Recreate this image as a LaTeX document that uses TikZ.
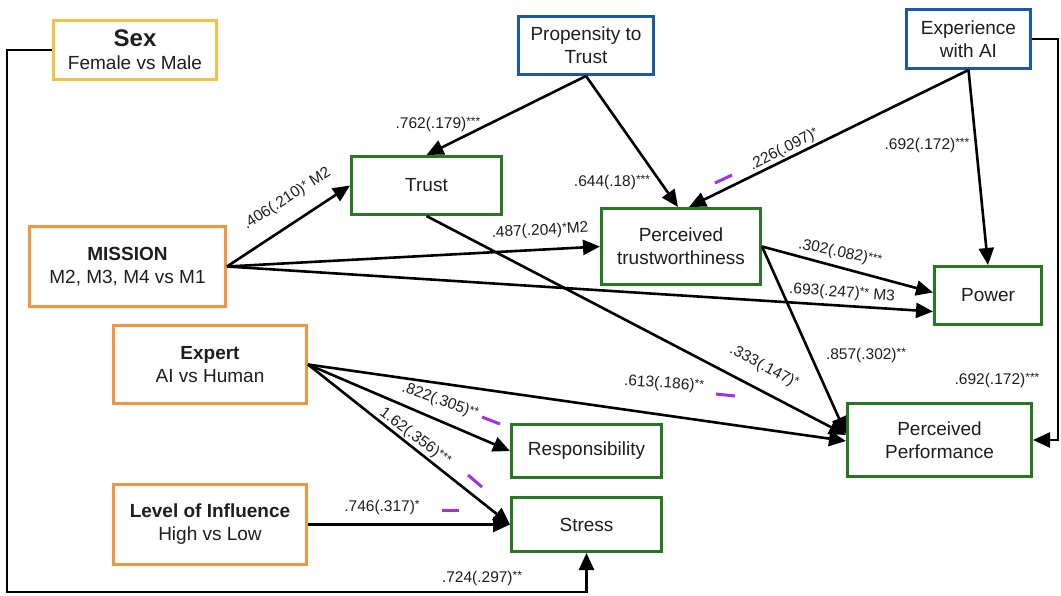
\documentclass[tikz,border=0pt]{standalone}
\usepackage{fontspec}
\setmainfont{Liberation Sans}
\usetikzlibrary{arrows.meta,calc}
\definecolor{cyel}{RGB}{246,192,66}
\definecolor{corg}{RGB}{240,150,65}
\definecolor{cblu}{RGB}{30,90,160}
\definecolor{cgrn}{RGB}{40,120,35}
\definecolor{cpur}{RGB}{160,50,230}
\definecolor{ctxt}{RGB}{30,30,30}
\newcommand\starsup[1]{\raisebox{.15em}{\fontsize{12}{12}\selectfont #1}}
\begin{document}
\begin{tikzpicture}[x=1pt,y=-1pt,
  box/.style={draw, line width=3pt, fill=white, inner sep=0pt, align=center,
    font=\fontsize{19}{23}\selectfont, text=ctxt},
  ybox/.style={box, draw=cyel},
  obox/.style={box, draw=corg},
  bbox/.style={box, draw=cblu},
  gbox/.style={box, draw=cgrn},
  arr/.style={line width=2.6pt, -{Triangle[length=17pt,width=15pt]}, black},
  lab/.style={font=\fontsize{15.5}{17}\selectfont, text=ctxt, inner sep=0pt},
  pdash/.style={draw=cpur, line width=3pt}]
\useasboundingbox (0,0) rectangle (1061,595);
\fill[white] (0,0) rectangle (1061,595);

% boxes
\node[ybox, minimum width=163, minimum height=59] (sex) at (135,50)
  {{\fontsize{24}{27}\selectfont\bfseries Sex}\\Female vs Male};
\node[bbox, minimum width=135, minimum height=58] (prop) at (586,45.5)
  {Propensity to\\Trust};
\node[bbox, minimum width=124, minimum height=59] (exp) at (968.5,39)
  {Experience\\with AI};
\node[gbox, minimum width=150, minimum height=58] (trust) at (426.5,185.5) {Trust};
\node[gbox, minimum width=159, minimum height=76] (pt) at (681,246.5)
  {Perceived\\trustworthiness};
\node[gbox, minimum width=107, minimum height=58] (power) at (988,295.5) {Power};
\node[gbox, minimum width=184, minimum height=73] (pp) at (939.5,440)
  {Perceived\\Performance};
\node[gbox, minimum width=150, minimum height=53] (resp) at (586.5,451) {Responsibility};
\node[gbox, minimum width=150, minimum height=54] (stress) at (586.5,524.5) {Stress};
\node[obox, minimum width=196, minimum height=80] (mission) at (127.5,266.5)
  {{\bfseries MISSION}\\M2, M3, M4 vs M1};
\node[obox, minimum width=193, minimum height=78] (expert) at (210,364.5)
  {{\bfseries Expert}\\AI vs Human};
\node[obox, minimum width=193, minimum height=80] (level) at (210,524.5)
  {{\bfseries Level of Influence}\\High vs Low};

% connectors
\draw[arr] (prop.south) -- (trust.north);
\draw[arr] (prop.south) -- ($(pt.north)+(-3,0)$);
\draw[arr] (exp.south) -- ($(pt.north)+(8,0)$);
\draw[arr] (exp.south) -- (power.north);
\draw[arr] (mission.east) -- (trust.west);
\draw[arr] (mission.east) -- (pt.west);
\draw[arr] (mission.east) -- ($(power.west)+(0,16)$);
\draw[arr] (pt.east) -- ($(power.west)+(0,-3)$);
\draw[arr] (pt.east) -- ($(pp.west)+(0,-6)$);
\draw[arr] (trust.south) -- ($(pp.west)+(0,-5)$);
\draw[arr] (expert.east) -- ($(pp.west)+(0,1)$);
\draw[arr] (expert.east) -- (resp.west);
\draw[arr] (expert.east) -- (stress.west);
\draw[arr] (level.east) -- (stress.west);
\coordinate (sexturn) at ($(sex.west)+(-45,0)$);
\coordinate (stressbot) at ($(stress.south)+(0,39)$);
\draw[arr] (sex.west) -- (sexturn) |- (stressbot) -- (stress.south);
\coordinate (expturn) at ($(exp.east)+(26,0)$);
\draw[arr] (exp.east) -- (expturn) |- (pp.east);

% labels
\node[lab] (l1) at (438,124) {.762(.179)\starsup{***}};
\node[lab] (l2) at (612,182) {.644(.18)\starsup{***}};
\node[lab, rotate=27] (l3) at (784,150) {.226(.097)\starsup{*}};
\node[lab] (l4) at (927,145) {.692(.172)\starsup{***}};
\node[lab, rotate=33] (l5) at (287,199) {.406(.210)\starsup{*} M2};
\node[lab, rotate=3] (l6) at (540,231) {.487(.204)\starsup{*}M2};
\node[lab, rotate=-4] (l7) at (842,293) {.693(.247)\starsup{**} M3};
\node[lab, rotate=-12] (l8) at (840,253) {.302(.082)\starsup{***}};
\node[lab] (l9) at (866,355) {.857(.302)\starsup{**}};
\node[lab, rotate=-28] (l10) at (764,367) {.333(.147)\starsup{*}};
\node[lab, rotate=-4] (l11) at (664,384) {.613(.186)\starsup{**}};
\node[lab, rotate=-20] (l12) at (440,401) {.822(.305)\starsup{**}};
\node[lab, rotate=-37] (l13) at (415,437) {1.62(.356)\starsup{***}};
\node[lab] (l14) at (382,507) {.746(.317)\starsup{*}};
\node[lab] (l15) at (482,578) {.724(.297)\starsup{**}};
\node[lab] (l16) at (997,380) {.692(.172)\starsup{***}};

% purple marks
\draw[pdash] (715,183) -- (732,175);
\draw[pdash] (716,394) -- (735,396);
\draw[pdash] (482,417) -- (500,424);
\draw[pdash] (468,475) -- (482,487);
\draw[pdash] (442,510) -- (459,510);
\end{tikzpicture}
\end{document}
